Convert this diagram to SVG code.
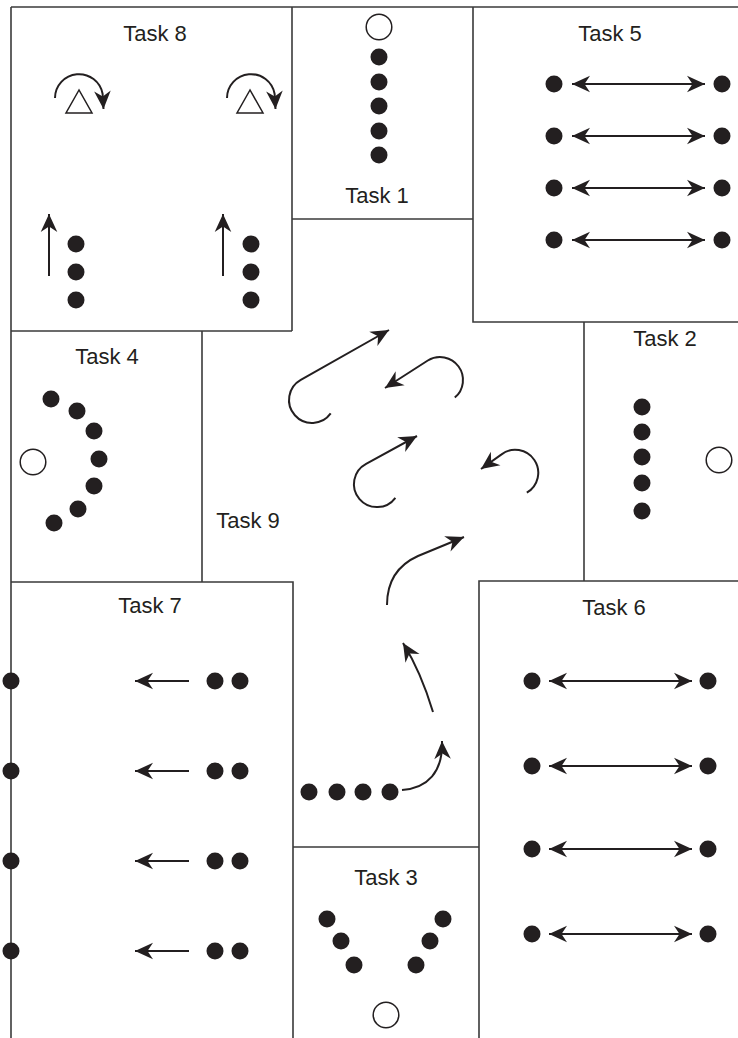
<svg xmlns="http://www.w3.org/2000/svg" width="738" height="1038" viewBox="0 0 738 1038">
<style>
.wall{fill:none;stroke:#3a3a3a;stroke-width:1.6}
.lbl{font-family:"Liberation Sans",Arial,sans-serif;font-size:22px;fill:#231f20;text-anchor:middle}
.dot{fill:#231f20}
.cone{fill:#fff;stroke:#231f20;stroke-width:1.5}
.arr{fill:none;stroke:#231f20;stroke-width:2}
.end{marker-end:url(#ah)}
.both{marker-start:url(#ah);marker-end:url(#ah)}
</style>
<defs>
<marker id="ah" viewBox="-19 -9 20 18" refX="0" refY="0" markerWidth="20" markerHeight="18" markerUnits="userSpaceOnUse" orient="auto-start-reverse">
<path d="M0,0 L-18,-8.3 L-12.5,0 L-18,8.3 Z" fill="#231f20"/>
</marker>
</defs>
<rect width="738" height="1038" fill="#fff"/>
<g id="walls" class="wall">
<path d="M11,7 H738"/>
<path d="M11,7 V1038"/>
<path d="M292,7 V331"/>
<path d="M11,331 H292"/>
<path d="M292,219 H473"/>
<path d="M473,7 V322 H738"/>
<path d="M584,322 V581"/>
<path d="M479,1038 V581 H738"/>
<path d="M202,331 V582"/>
<path d="M11,582 H293 V1038"/>
<path d="M293,847 H479"/>
</g>
<g id="task8">
<text class="lbl" x="155" y="41">Task 8</text>
<polygon class="cone" points="79,90 66,113 92,113"/>
<polygon class="cone" points="250,90 237,113 263,113"/>
<circle class="dot" cx="76" cy="244" r="8.5"/>
<circle class="dot" cx="76" cy="272" r="8.5"/>
<circle class="dot" cx="76" cy="300" r="8.5"/>
<circle class="dot" cx="251" cy="244" r="8.5"/>
<circle class="dot" cx="251" cy="272" r="8.5"/>
<circle class="dot" cx="251" cy="300" r="8.5"/>
</g>
<g id="task1">
<text class="lbl" x="377" y="203">Task 1</text>
<circle class="cone" cx="379" cy="27" r="12.8"/>
<circle class="dot" cx="379" cy="57" r="8.5"/>
<circle class="dot" cx="379" cy="82" r="8.5"/>
<circle class="dot" cx="379" cy="106" r="8.5"/>
<circle class="dot" cx="379" cy="131" r="8.5"/>
<circle class="dot" cx="379" cy="155" r="8.5"/>
</g>
<g id="task5">
<text class="lbl" x="610" y="41">Task 5</text>
<circle class="dot" cx="554" cy="84" r="8.5"/><circle class="dot" cx="722" cy="84" r="8.5"/>
<circle class="dot" cx="554" cy="136" r="8.5"/><circle class="dot" cx="722" cy="136" r="8.5"/>
<circle class="dot" cx="554" cy="188" r="8.5"/><circle class="dot" cx="722" cy="188" r="8.5"/>
<circle class="dot" cx="554" cy="240" r="8.5"/><circle class="dot" cx="722" cy="240" r="8.5"/>
</g>
<g id="task4">
<text class="lbl" x="107" y="364">Task 4</text>
<circle class="cone" cx="33" cy="462" r="12.8"/>
<circle class="dot" cx="51" cy="399" r="8.5"/>
<circle class="dot" cx="77" cy="411" r="8.5"/>
<circle class="dot" cx="94" cy="431" r="8.5"/>
<circle class="dot" cx="99" cy="459" r="8.5"/>
<circle class="dot" cx="94" cy="486" r="8.5"/>
<circle class="dot" cx="78" cy="509" r="8.5"/>
<circle class="dot" cx="54" cy="523" r="8.5"/>
</g>
<g id="task2">
<text class="lbl" x="665" y="346">Task 2</text>
<circle class="cone" cx="719" cy="460" r="12.8"/>
<circle class="dot" cx="642" cy="407" r="8.5"/>
<circle class="dot" cx="642" cy="432" r="8.5"/>
<circle class="dot" cx="642" cy="457" r="8.5"/>
<circle class="dot" cx="642" cy="483" r="8.5"/>
<circle class="dot" cx="642" cy="511" r="8.5"/>
</g>
<g id="task9">
<text class="lbl" x="248" y="528">Task 9</text>
<circle class="dot" cx="309" cy="792" r="8.5"/>
<circle class="dot" cx="337" cy="792" r="8.5"/>
<circle class="dot" cx="363" cy="792" r="8.5"/>
<circle class="dot" cx="390" cy="792" r="8.5"/>
</g>
<g id="task7">
<text class="lbl" x="150" y="613">Task 7</text>
<circle class="dot" cx="11" cy="681" r="8.5"/>
<circle class="dot" cx="11" cy="771" r="8.5"/>
<circle class="dot" cx="11" cy="861" r="8.5"/>
<circle class="dot" cx="11" cy="951" r="8.5"/>
<circle class="dot" cx="215" cy="681" r="8.5"/><circle class="dot" cx="240" cy="681" r="8.5"/>
<circle class="dot" cx="215" cy="771" r="8.5"/><circle class="dot" cx="240" cy="771" r="8.5"/>
<circle class="dot" cx="215" cy="861" r="8.5"/><circle class="dot" cx="240" cy="861" r="8.5"/>
<circle class="dot" cx="215" cy="951" r="8.5"/><circle class="dot" cx="240" cy="951" r="8.5"/>
</g>
<g id="task6">
<text class="lbl" x="614" y="615">Task 6</text>
<circle class="dot" cx="532" cy="681" r="8.5"/><circle class="dot" cx="708" cy="681" r="8.5"/>
<circle class="dot" cx="532" cy="766" r="8.5"/><circle class="dot" cx="708" cy="766" r="8.5"/>
<circle class="dot" cx="532" cy="849" r="8.5"/><circle class="dot" cx="708" cy="849" r="8.5"/>
<circle class="dot" cx="532" cy="934" r="8.5"/><circle class="dot" cx="708" cy="934" r="8.5"/>
</g>
<g id="task3">
<text class="lbl" x="386" y="885">Task 3</text>
<circle class="cone" cx="386" cy="1015" r="12.8"/>
<circle class="dot" cx="327" cy="919" r="8.5"/>
<circle class="dot" cx="341" cy="941" r="8.5"/>
<circle class="dot" cx="354" cy="965" r="8.5"/>
<circle class="dot" cx="443" cy="919" r="8.5"/>
<circle class="dot" cx="430" cy="941" r="8.5"/>
<circle class="dot" cx="416" cy="965" r="8.5"/>
</g>
<g id="connectors" class="arr">
<path class="end" d="M55,98 A24,24 0 0 1 102.6,93.8 L103.5,109"/>
<path class="end" d="M227,98 A24,24 0 0 1 274.6,93.8 L275.5,109"/>
<path class="end" d="M49,276 V214"/>
<path class="end" d="M223,276 V214"/>
<path class="both" d="M572,84 H705"/>
<path class="both" d="M572,136 H705"/>
<path class="both" d="M572,188 H705"/>
<path class="both" d="M572,240 H705"/>
<path class="end" d="M330.7,413.4 A23,23 0 1 1 300.8,379.9 L389,330"/>
<path class="end" d="M454.8,397.6 A23,23 0 0 0 427.8,360.5 L385,388"/>
<path class="end" d="M395.4,497.8 A23,23 0 1 1 366.1,463.8 L417,436"/>
<path class="end" d="M526.8,492.7 A23,23 0 1 0 501.2,454.6 L481,469"/>
<path class="end" d="M387,605 C387,580 398,565 418,556 L464,537"/>
<path class="end" d="M433,712 Q421,672 403,643"/>
<path class="end" d="M402,790 C428,788 443,772 442,741"/>
<path class="end" d="M189,681 H135"/>
<path class="end" d="M189,771 H135"/>
<path class="end" d="M189,861 H135"/>
<path class="end" d="M189,951 H135"/>
<path class="both" d="M549,681 H692"/>
<path class="both" d="M549,766 H692"/>
<path class="both" d="M549,849 H692"/>
<path class="both" d="M549,934 H692"/>
</g>
</svg>
